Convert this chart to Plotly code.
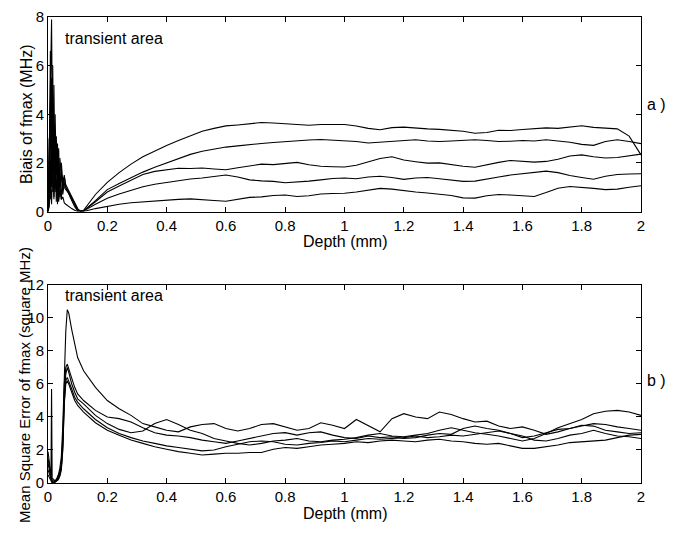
import plotly.graph_objects as go

# ---------------- data ----------------
depth_a_tr = [0.0, 0.004, 0.008, 0.012, 0.016, 0.02, 0.024, 0.028, 0.032, 0.036,
              0.04, 0.045, 0.05, 0.055, 0.06, 0.07, 0.08, 0.09, 0.1, 0.11]
depth_b_tr = [0.0, 0.005, 0.01, 0.012, 0.014, 0.02, 0.025, 0.03, 0.035, 0.04,
              0.045, 0.05, 0.055, 0.06, 0.065, 0.07, 0.08, 0.09, 0.1]
depth_steady = [0.12, 0.16, 0.20, 0.24, 0.28, 0.32, 0.36, 0.40, 0.44, 0.48,
                0.52, 0.56, 0.60, 0.64, 0.68, 0.72, 0.76, 0.80, 0.84, 0.88,
                0.92, 0.96, 1.00, 1.04, 1.08, 1.12, 1.16, 1.20, 1.24, 1.28,
                1.32, 1.36, 1.40, 1.44, 1.48, 1.52, 1.56, 1.60, 1.64, 1.68,
                1.72, 1.76, 1.80, 1.84, 1.88, 1.92, 1.96, 2.00]

# (a) bias of fmax (MHz): transient part, then steady part
bias_tr = [
    [0, 2.0, 5.0, 7.9, 1.5, 5.2, 0.8, 3.1, 1.0, 2.6, 0.6, 2.0, 1.2, 1.5, 1.0, 0.8, 0.55, 0.3, 0.1, 0.0],
    [0, 1.0, 6.6, 2.0, 6.0, 0.5, 4.0, 1.5, 2.8, 0.5, 2.2, 1.6, 0.9, 1.4, 1.1, 0.85, 0.6, 0.35, 0.12, 0.0],
    [0, 0.3, 4.5, 1.0, 4.8, 2.0, 2.5, 0.4, 2.0, 1.3, 1.8, 0.5, 1.4, 1.0, 0.9, 0.75, 0.5, 0.3, 0.05, 0.02],
    [0, 3.0, 0.5, 5.5, 0.8, 3.5, 1.0, 2.8, 0.3, 1.8, 1.1, 1.5, 0.7, 1.2, 1.0, 0.7, 0.45, 0.2, 0.02, 0.03],
    [0, 0.2, 1.2, 0.3, 2.0, 0.6, 1.5, 0.8, 1.0, 0.4, 0.9, 0.5, 0.6, 0.35, 0.3, 0.2, 0.12, 0.05, 0.0, 0.02],
]
bias_1 = [0.05, 0.7, 1.2, 1.6, 1.95, 2.25, 2.5, 2.72, 2.92, 3.1,
          3.3, 3.42, 3.52, 3.56, 3.6, 3.66, 3.64, 3.6, 3.58, 3.55,
          3.58, 3.58, 3.58, 3.52, 3.42, 3.36, 3.45, 3.47, 3.42, 3.4,
          3.38, 3.35, 3.3, 3.22, 3.25, 3.34, 3.33, 3.37, 3.4, 3.44,
          3.42, 3.48, 3.53, 3.46, 3.42, 3.4, 3.1, 2.33]
bias_2 = [0.02, 0.45, 0.9, 1.15, 1.4, 1.62, 1.82, 2.0, 2.2, 2.35,
          2.48, 2.57, 2.65, 2.7, 2.76, 2.8, 2.84, 2.88, 2.9, 2.94,
          2.96, 2.93, 2.93, 2.88, 2.82, 2.86, 2.9, 2.93, 2.95, 2.9,
          2.88, 2.9, 2.93, 2.95, 2.92, 2.88, 2.89, 2.92, 2.9, 2.95,
          2.9, 2.85, 2.76, 2.72, 2.88, 2.95, 2.88, 2.79]
bias_3 = [0.03, 0.4, 0.8, 1.05, 1.3, 1.52, 1.65, 1.72, 1.78, 1.77,
          1.79, 1.75, 1.72, 1.8, 1.88, 1.95, 1.93, 1.98, 2.02, 1.92,
          1.86, 1.84, 1.83, 1.9, 2.05, 2.18, 2.25, 2.12, 2.05, 1.99,
          2.0, 1.92, 1.86, 1.82, 1.93, 2.02, 2.1, 2.06, 2.03, 2.06,
          2.15, 2.28, 2.33, 2.25, 2.2, 2.22, 2.28, 2.36]
bias_4 = [0.02, 0.3, 0.55, 0.72, 0.88, 1.02, 1.12, 1.2, 1.28, 1.34,
          1.38, 1.45, 1.5, 1.42, 1.3, 1.26, 1.24, 1.18, 1.2, 1.25,
          1.3, 1.36, 1.38, 1.35, 1.42, 1.45, 1.4, 1.32, 1.38, 1.4,
          1.35, 1.3, 1.24, 1.25, 1.35, 1.42, 1.5, 1.56, 1.6, 1.66,
          1.6, 1.48, 1.4, 1.33, 1.45, 1.52, 1.54, 1.55]
bias_5 = [0.0, 0.12, 0.22, 0.3, 0.36, 0.4, 0.45, 0.48, 0.5, 0.52,
          0.5, 0.45, 0.42, 0.5, 0.58, 0.6, 0.66, 0.68, 0.62, 0.65,
          0.72, 0.74, 0.75, 0.8, 0.88, 0.95, 0.92, 0.85, 0.8, 0.76,
          0.72, 0.66, 0.56, 0.55, 0.65, 0.7, 0.68, 0.64, 0.62, 0.78,
          0.96, 1.03, 1.0, 0.95, 0.9, 0.92, 1.0, 1.06]
bias_steady = [bias_1, bias_2, bias_3, bias_4, bias_5]

# (b) mean square error of fmax (square MHz)
mse_tr = [
    [1.9, 1.0, 0.5, 0.3, 0.2, 0.1, 0.15, 0.3, 0.5, 0.9, 1.6, 3.5, 6.8, 9.2, 10.5, 10.3, 9.3, 8.4, 7.6],
    [1.5, 0.8, 0.4, 5.7, 0.3, 0.2, 0.1, 0.2, 0.4, 0.7, 1.2, 2.8, 6.0, 7.0, 7.2, 6.9, 6.3, 5.8, 5.4],
    [1.2, 0.6, 0.3, 0.2, 0.1, 0.05, 0.1, 0.2, 0.3, 0.6, 1.0, 2.5, 5.5, 6.6, 7.0, 6.7, 6.0, 5.5, 5.1],
    [0.8, 0.5, 0.2, 0.1, 0.05, 0.0, 0.05, 0.15, 0.3, 0.5, 0.9, 2.2, 5.0, 6.2, 6.4, 6.2, 5.7, 5.2, 4.9],
    [0.5, 0.3, 0.1, 0.05, 0.0, 0.0, 0.05, 0.1, 0.2, 0.4, 0.8, 2.0, 4.8, 6.0, 6.2, 6.0, 5.5, 5.0, 4.7],
]
mse_1 = [6.8, 5.8, 5.0, 4.5, 4.1, 3.6, 3.4, 3.2, 3.1, 3.4,
         3.55, 3.6, 3.3, 3.15, 3.3, 3.55, 3.6, 3.4, 3.2, 3.3,
         3.65, 3.5, 3.3, 3.85, 3.45, 3.1, 3.9, 4.2, 4.0, 3.9,
         4.3, 4.15, 3.9, 3.7, 3.75, 3.45, 3.3, 3.4, 3.2, 2.95,
         3.1, 3.3, 3.45, 3.6, 3.55, 3.4, 3.3, 3.2]
mse_2 = [5.0, 4.4, 4.0, 3.9, 3.7, 3.35, 3.05, 2.9, 2.85, 2.75,
         2.6, 2.5, 2.4, 2.55, 2.7, 2.85, 3.0, 3.05, 2.9, 3.05,
         3.1, 2.9, 2.75, 2.7, 2.85, 2.75, 2.8, 2.7, 2.75, 2.9,
         3.0, 2.95, 3.3, 3.45, 3.3, 3.2, 3.0, 2.75, 2.85, 3.05,
         3.25, 3.3, 3.5, 3.45, 3.2, 3.1, 3.0, 3.05]
mse_3 = [4.8, 4.1, 3.6, 3.25, 3.05, 3.15, 3.6, 3.85, 3.55, 3.2,
         3.0, 2.7, 2.55, 2.4, 2.3, 2.4, 2.55, 2.6, 2.7, 2.55,
         2.5, 2.6, 2.65, 2.75, 2.9, 3.0, 2.85, 2.8, 2.9, 3.0,
         3.2, 3.35, 3.2, 3.05, 2.95, 2.85, 2.7, 2.55, 2.7, 3.0,
         3.35, 3.6, 3.85, 4.2, 4.35, 4.4, 4.3, 4.1]
mse_4 = [4.5, 3.85, 3.35, 3.0, 2.75, 2.55, 2.4, 2.25, 2.15, 2.05,
         1.95, 2.0, 2.2, 2.35, 2.5, 2.55, 2.5, 2.35, 2.3, 2.4,
         2.45, 2.55, 2.5, 2.6, 2.7, 2.65, 2.7, 2.75, 2.85, 2.75,
         2.8, 2.9, 2.85, 2.95, 3.05, 3.15, 3.0, 2.85, 2.6, 2.55,
         2.7, 2.9, 3.0, 3.2, 3.0, 2.85, 2.8, 2.7]
mse_5 = [4.3, 3.65, 3.2, 2.9, 2.6, 2.4, 2.2, 2.05, 1.9, 1.8,
         1.7, 1.75, 1.8, 1.8, 1.85, 1.85, 2.05, 2.15, 2.1, 2.2,
         2.3, 2.35, 2.4, 2.5, 2.45, 2.55, 2.6, 2.55, 2.5, 2.6,
         2.65, 2.55, 2.5, 2.4, 2.35, 2.4, 2.25, 2.1, 2.1, 2.2,
         2.3, 2.45, 2.5, 2.55, 2.6, 2.75, 2.9, 2.95]
mse_steady = [mse_1, mse_2, mse_3, mse_4, mse_5]

x_ticks = [0, 0.2, 0.4, 0.6, 0.8, 1, 1.2, 1.4, 1.6, 1.8, 2]
x_ticktext = ["0", "0.2", "0.4", "0.6", "0.8", "1", "1.2", "1.4", "1.6", "1.8", "2"]
ya_ticks = [0, 2, 4, 6, 8]
yb_ticks = [0, 2, 4, 6, 8, 10, 12]

# ---------------- figure ----------------
FONT = "Liberation Sans, Arial, sans-serif"
fig = go.Figure()
line = dict(color="black", width=1.1)

for tr, st in zip(bias_tr, bias_steady):
    fig.add_trace(go.Scatter(x=depth_a_tr + depth_steady, y=tr + st, mode="lines",
                             line=line, xaxis="x", yaxis="y", showlegend=False,
                             hoverinfo="skip"))
for tr, st in zip(mse_tr, mse_steady):
    fig.add_trace(go.Scatter(x=depth_b_tr + depth_steady, y=tr + st, mode="lines",
                             line=line, xaxis="x2", yaxis="y2", showlegend=False,
                             hoverinfo="skip"))

axis_common = dict(showline=True, linecolor="black", linewidth=1, mirror="ticks",
                   ticks="inside", ticklen=5, tickcolor="black", tickwidth=1,
                   showgrid=False, zeroline=False, automargin=False,
                   tickfont=dict(family=FONT, size=15, color="black"))

fig.update_layout(
    width=657, height=517,
    margin=dict(l=40, r=24, t=9, b=42, autoexpand=False),
    paper_bgcolor="white", plot_bgcolor="white",
    font=dict(family=FONT, size=16, color="black"),
    xaxis=dict(domain=[0, 1], anchor="y", range=[0, 2], tickvals=x_ticks,
               ticktext=x_ticktext, **axis_common),
    yaxis=dict(domain=[0.5826, 1], anchor="x", range=[0, 8], tickvals=ya_ticks,
               **axis_common),
    xaxis2=dict(domain=[0, 1], anchor="y2", range=[0, 2], tickvals=x_ticks,
                ticktext=x_ticktext, **axis_common),
    yaxis2=dict(domain=[0, 0.4249], anchor="x2", range=[0, 12], tickvals=yb_ticks,
                **axis_common),
)

ann = []
ann.append(dict(text="transient area", x=0.05, y=7.13, xref="x", yref="y",
                xanchor="left", yanchor="middle", showarrow=False))
ann.append(dict(text="transient area", x=0.05, y=11.38, xref="x2", yref="y2",
                xanchor="left", yanchor="middle", showarrow=False))
ann.append(dict(text="Depth (mm)", x=0.5008, y=0.5172, xref="paper", yref="paper",
                xanchor="center", yanchor="middle", showarrow=False))
ann.append(dict(text="Depth (mm)", x=0.5008, y=-0.0644, xref="paper", yref="paper",
                xanchor="center", yanchor="middle", showarrow=False))
ann.append(dict(text="Biais of fmax (MHz)", x=-0.0371, y=0.7918, xref="paper",
                yref="paper", xanchor="center", yanchor="middle", textangle=-90,
                showarrow=False))
ann.append(dict(text="Mean Square Error of fmax (square MHz)", x=-0.0405, y=0.2103,
                xref="paper", yref="paper", xanchor="center", yanchor="middle",
                textangle=-90, showarrow=False, font=dict(size=15)))
ann.append(dict(text="a )", x=1.045, y=0.8133, xref="paper", yref="paper",
                xanchor="right", yanchor="middle", showarrow=False))
ann.append(dict(text="b )", x=1.045, y=0.221, xref="paper", yref="paper",
                xanchor="right", yanchor="middle", showarrow=False))
fig.update_layout(annotations=ann)

fig.write_html("out.html")
